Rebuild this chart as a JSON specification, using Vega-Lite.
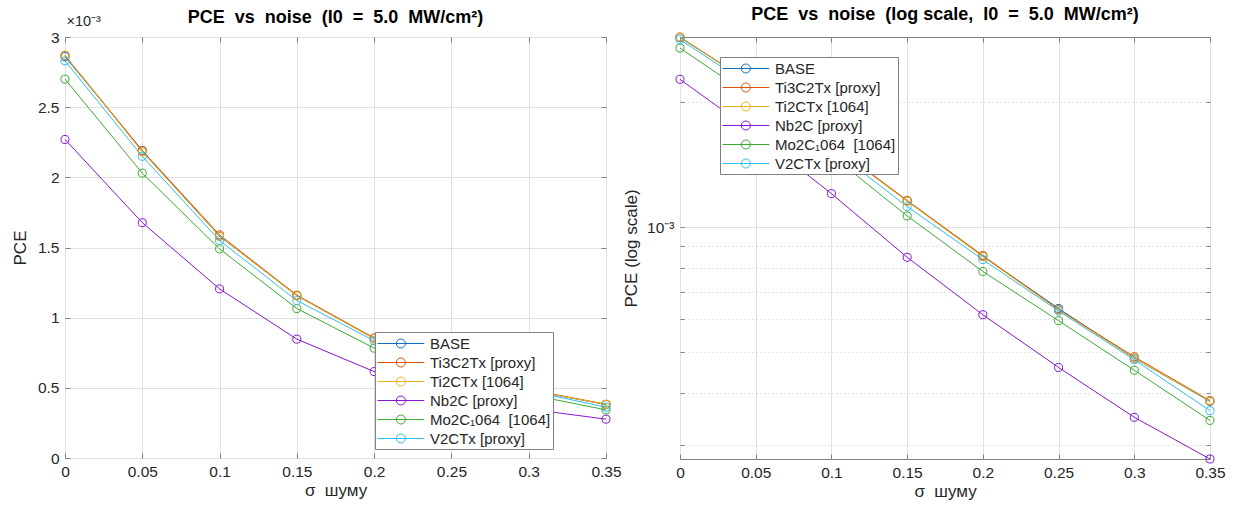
{
  "$schema": "https://vega.github.io/schema/vega-lite/v6.json",
  "background": "white",
  "padding": {"left": 10, "top": 5, "right": 5, "bottom": 2},
  "config": {
    "font": "Liberation Sans",
    "view": {"stroke": "#808080", "strokeWidth": 1},
    "axis": {
      "labelFont": "Liberation Sans", "labelFontSize": 15.5, "labelColor": "#262626",
      "titleFont": "Liberation Sans", "titleFontSize": 17, "titleFontWeight": "normal", "titleColor": "#262626",
      "domain": false, "tickColor": "#808080", "gridColor": "#e0e0e0", "gridWidth": 1,
      "labelFlush": false, "labelOverlap": false
    },
    "legend": {
      "labelFont": "Liberation Sans", "labelFontSize": 15, "labelColor": "#262626"
    },
    "title": {"font": "Liberation Sans", "fontSize": 18, "fontWeight": "bold", "color": "#000000", "anchor": "middle", "frame": "group"},
    "concat": {"spacing": 0}
  },
  "datasets": {
    "pce": [
      {"sigma": 0, "material": "BASE", "pce": 0.00286},
      {"sigma": 0.05, "material": "BASE", "pce": 0.00219},
      {"sigma": 0.1, "material": "BASE", "pce": 0.00158},
      {"sigma": 0.15, "material": "BASE", "pce": 0.001158},
      {"sigma": 0.2, "material": "BASE", "pce": 0.000852},
      {"sigma": 0.25, "material": "BASE", "pce": 0.000638},
      {"sigma": 0.3, "material": "BASE", "pce": 0.000484},
      {"sigma": 0.35, "material": "BASE", "pce": 0.000381},
      {"sigma": 0, "material": "Ti3C2Tx [proxy]", "pce": 0.00287},
      {"sigma": 0.05, "material": "Ti3C2Tx [proxy]", "pce": 0.00219},
      {"sigma": 0.1, "material": "Ti3C2Tx [proxy]", "pce": 0.00159},
      {"sigma": 0.15, "material": "Ti3C2Tx [proxy]", "pce": 0.00116},
      {"sigma": 0.2, "material": "Ti3C2Tx [proxy]", "pce": 0.000855},
      {"sigma": 0.25, "material": "Ti3C2Tx [proxy]", "pce": 0.000634},
      {"sigma": 0.3, "material": "Ti3C2Tx [proxy]", "pce": 0.000488},
      {"sigma": 0.35, "material": "Ti3C2Tx [proxy]", "pce": 0.000383},
      {"sigma": 0, "material": "Ti2CTx [1064]", "pce": 0.00287},
      {"sigma": 0.05, "material": "Ti2CTx [1064]", "pce": 0.00218},
      {"sigma": 0.1, "material": "Ti2CTx [1064]", "pce": 0.00158},
      {"sigma": 0.15, "material": "Ti2CTx [1064]", "pce": 0.001155},
      {"sigma": 0.2, "material": "Ti2CTx [1064]", "pce": 0.00085},
      {"sigma": 0.25, "material": "Ti2CTx [1064]", "pce": 0.000632},
      {"sigma": 0.3, "material": "Ti2CTx [1064]", "pce": 0.000484},
      {"sigma": 0.35, "material": "Ti2CTx [1064]", "pce": 0.000382},
      {"sigma": 0, "material": "Nb2C [proxy]", "pce": 0.00227},
      {"sigma": 0.05, "material": "Nb2C [proxy]", "pce": 0.001677},
      {"sigma": 0.1, "material": "Nb2C [proxy]", "pce": 0.001205},
      {"sigma": 0.15, "material": "Nb2C [proxy]", "pce": 0.000847},
      {"sigma": 0.2, "material": "Nb2C [proxy]", "pce": 0.000616},
      {"sigma": 0.25, "material": "Nb2C [proxy]", "pce": 0.00046},
      {"sigma": 0.3, "material": "Nb2C [proxy]", "pce": 0.000349},
      {"sigma": 0.35, "material": "Nb2C [proxy]", "pce": 0.000277},
      {"sigma": 0, "material": "Mo2C₁064\u00a0 [1064]", "pce": 0.0027},
      {"sigma": 0.05, "material": "Mo2C₁064\u00a0 [1064]", "pce": 0.00203},
      {"sigma": 0.1, "material": "Mo2C₁064\u00a0 [1064]", "pce": 0.00149},
      {"sigma": 0.15, "material": "Mo2C₁064\u00a0 [1064]", "pce": 0.001065},
      {"sigma": 0.2, "material": "Mo2C₁064\u00a0 [1064]", "pce": 0.000783},
      {"sigma": 0.25, "material": "Mo2C₁064\u00a0 [1064]", "pce": 0.000596},
      {"sigma": 0.3, "material": "Mo2C₁064\u00a0 [1064]", "pce": 0.000453},
      {"sigma": 0.35, "material": "Mo2C₁064\u00a0 [1064]", "pce": 0.000343},
      {"sigma": 0, "material": "V2CTx [proxy]", "pce": 0.00283},
      {"sigma": 0.05, "material": "V2CTx [proxy]", "pce": 0.00215},
      {"sigma": 0.1, "material": "V2CTx [proxy]", "pce": 0.00155},
      {"sigma": 0.15, "material": "V2CTx [proxy]", "pce": 0.001122},
      {"sigma": 0.2, "material": "V2CTx [proxy]", "pce": 0.000836},
      {"sigma": 0.25, "material": "V2CTx [proxy]", "pce": 0.000629},
      {"sigma": 0.3, "material": "V2CTx [proxy]", "pce": 0.00048},
      {"sigma": 0.35, "material": "V2CTx [proxy]", "pce": 0.000362}
    ]
  },
  "hconcat": [
    {
      "width": 541,
      "height": 421,
      "title": {"text": "PCE\u00a0 vs\u00a0 noise\u00a0 (I0\u00a0 =\u00a0 5.0\u00a0 MW/cm²)", "offset": -14},
      "data": {"name": "pce"},
      "encoding": {
        "color": {
          "field": "material", "type": "nominal",
          "scale": {
            "domain": ["BASE", "Ti3C2Tx [proxy]", "Ti2CTx [1064]", "Nb2C [proxy]", "Mo2C₁064\u00a0 [1064]", "V2CTx [proxy]"],
            "range": ["#1171BE", "#DD5400", "#EDB120", "#8516D1", "#3BAA32", "#2FBEEF"]
          },
          "legend": {
            "orient": "none", "legendX": 310, "legendY": 295, "title": null,
            "symbolType": "M-1,0H4.2M2.1,0A0.5,0.5,0,1,1,1.1,0A0.5,0.5,0,1,1,2.1,0",
            "symbolSize": 324, "symbolStrokeWidth": 1, "symbolFillColor": "transparent",
            "fillColor": "white", "strokeColor": "#808080", "padding": 2, "rowPadding": 1, "labelOffset": 34
          }
        }
      },
      "layer": [
        {
          "mark": {"type": "line", "strokeWidth": 1},
          "encoding": {
            "x": {
              "field": "sigma", "type": "quantitative",
              "scale": {"domain": [0, 0.35], "nice": false, "zero": false},
              "axis": {"orient": "bottom", "values": [0, 0.05, 0.1, 0.15, 0.2, 0.25, 0.3, 0.35], "format": "~g", "title": "σ\u00a0 шуму", "grid": true, "tickSize": -5, "labelPadding": 11, "titlePadding": 3}
            },
            "y": {
              "field": "pce", "type": "quantitative",
              "scale": {"domain": [0, 0.003], "nice": false},
              "axis": {"orient": "left", "values": [0, 0.0005, 0.001, 0.0015, 0.002, 0.0025, 0.003], "labelExpr": "format(round(datum.value*10000)/10, '~g')", "title": "PCE", "grid": true, "tickSize": -5, "labelPadding": 11, "titlePadding": 8}
            }
          }
        },
        {
          "mark": {"type": "point", "filled": false, "size": 65, "strokeWidth": 1, "opacity": 1},
          "encoding": {
            "x": {
              "field": "sigma", "type": "quantitative",
              "axis": {"orient": "top", "values": [0, 0.05, 0.1, 0.15, 0.2, 0.25, 0.3, 0.35], "labels": false, "title": null, "grid": false, "tickSize": -5}
            },
            "y": {
              "field": "pce", "type": "quantitative",
              "axis": {"orient": "right", "values": [0, 0.0005, 0.001, 0.0015, 0.002, 0.0025, 0.003], "labels": false, "grid": false, "tickSize": -5,
                "title": "×10⁻³", "titleAngle": 0, "titleX": -540, "titleY": -9, "titleAlign": "left", "titleBaseline": "bottom", "titleFontSize": 14.5}
            }
          }
        }
      ],
      "resolve": {"axis": {"x": "independent", "y": "independent"}}
    },
    {
      "width": 530,
      "height": 422,
      "title": {"text": "PCE\u00a0 vs\u00a0 noise\u00a0 (log scale,\u00a0 I0\u00a0 =\u00a0 5.0\u00a0 MW/cm²)", "offset": 7},
      "data": {"name": "pce"},
      "encoding": {
        "color": {
          "field": "material", "type": "nominal",
          "scale": {
            "domain": ["BASE", "Ti3C2Tx [proxy]", "Ti2CTx [1064]", "Nb2C [proxy]", "Mo2C₁064\u00a0 [1064]", "V2CTx [proxy]"],
            "range": ["#1171BE", "#DD5400", "#EDB120", "#8516D1", "#3BAA32", "#2FBEEF"]
          },
          "legend": {
            "orient": "none", "legendX": 40, "legendY": 20, "title": null,
            "symbolType": "M-1,0H4.2M2.1,0A0.5,0.5,0,1,1,1.1,0A0.5,0.5,0,1,1,2.1,0",
            "symbolSize": 324, "symbolStrokeWidth": 1, "symbolFillColor": "transparent",
            "fillColor": "white", "strokeColor": "#808080", "padding": 2, "rowPadding": 1, "labelOffset": 34
          }
        }
      },
      "layer": [
        {
          "mark": {"type": "line", "strokeWidth": 1},
          "encoding": {
            "x": {
              "field": "sigma", "type": "quantitative",
              "scale": {"domain": [0, 0.35], "nice": false, "zero": false},
              "axis": {"orient": "bottom", "values": [0, 0.05, 0.1, 0.15, 0.2, 0.25, 0.3, 0.35], "format": "~g", "title": "σ\u00a0 шуму", "grid": true, "tickSize": -5, "labelPadding": 11, "titlePadding": 3}
            },
            "y": {
              "field": "pce", "type": "quantitative",
              "scale": {"type": "log", "domain": [0.000277, 0.00287], "nice": false},
              "axis": {"orient": "left", "values": [0.0003, 0.0004, 0.0005, 0.0006, 0.0007, 0.0008, 0.0009, 0.001, 0.002],
                "labelExpr": "datum.value == 0.001 ? '10⁻³' : ''", "title": "PCE (log scale)", "grid": true,
                "gridDash": {"condition": {"test": "datum.value == 0.001", "value": []}, "value": [1, 3]},
                "gridColor": {"condition": {"test": "datum.value == 0.001", "value": "#e0e0e0"}, "value": "#c8c8c8"},
                "tickSize": -4, "labelPadding": 10, "titlePadding": 6}
            }
          }
        },
        {
          "mark": {"type": "point", "filled": false, "size": 65, "strokeWidth": 1, "opacity": 1},
          "encoding": {
            "x": {
              "field": "sigma", "type": "quantitative",
              "axis": {"orient": "top", "values": [0, 0.05, 0.1, 0.15, 0.2, 0.25, 0.3, 0.35], "labels": false, "title": null, "grid": false, "tickSize": -5}
            },
            "y": {
              "field": "pce", "type": "quantitative",
              "axis": {"orient": "right", "values": [0.0003, 0.0004, 0.0005, 0.0006, 0.0007, 0.0008, 0.0009, 0.001, 0.002], "labels": false, "title": null, "grid": false, "tickSize": -4}
            }
          }
        }
      ],
      "resolve": {"axis": {"x": "independent", "y": "independent"}}
    }
  ],
  "resolve": {"legend": {"color": "independent"}}
}
